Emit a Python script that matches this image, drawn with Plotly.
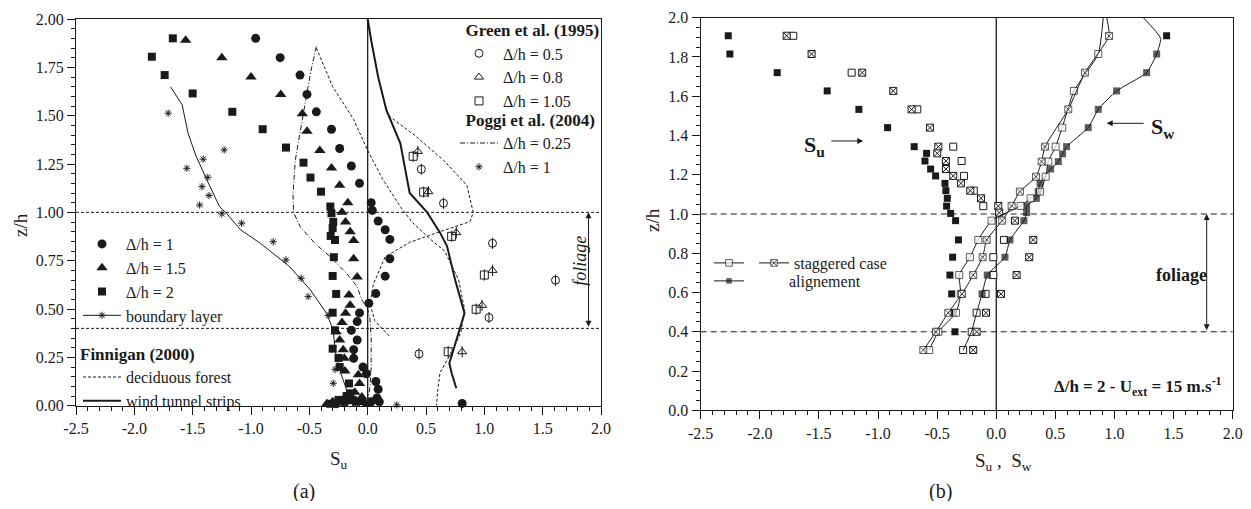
import plotly.graph_objects as go

FONT = "Liberation Serif"
BLACK = "#1a1a1a"
PAGE_OFF = 8          # default page margin around the plot div
W, H = 1251 - PAGE_OFF, 509 - 2 * PAGE_OFF

# ======================= Panel (a) : S_u ==========================
a_dh1_x = [-0.96, -0.75, -0.58, -0.52, -0.44, -0.31, -0.24, -0.14, -0.07, 0.03, 0.04, 0.09, 0.15, 0.19, 0.19,
           0.15, 0.07, 0.01, -0.07, -0.09, -0.14, -0.09, -0.12, -0.12, -0.04, -0.01, 0.07, 0.09, 0.08, 0.03,
           -0.05, -0.12, -0.20, -0.27, 0.10, 0.81]
a_dh1_z = [1.90, 1.80, 1.71, 1.61, 1.52, 1.43, 1.33, 1.24, 1.15, 1.05, 1.01, 0.955, 0.91, 0.86, 0.76,
           0.67, 0.58, 0.53, 0.48, 0.435, 0.39, 0.34, 0.29, 0.245, 0.20, 0.165, 0.125, 0.085, 0.04, 0.02,
           0.025, 0.03, 0.015, 0.01, 0.02, 0.012]
a_dh15_x = [-1.56, -1.25, -1.00, -0.745, -0.56, -0.52, -0.41, -0.31, -0.24, -0.17, -0.22, -0.19, -0.15, -0.12,
            -0.12, -0.09, -0.16, -0.15, -0.19, -0.22, -0.27, -0.24, -0.21, -0.20, -0.195, -0.08, -0.07, -0.11,
            -0.20, -0.30, -0.35, -0.15, -0.05, 0.0]
a_dh15_z = [1.89, 1.80, 1.70, 1.61, 1.51, 1.42, 1.32, 1.23, 1.14, 1.05, 1.00, 0.95, 0.90, 0.855,
            0.76, 0.665, 0.573, 0.52, 0.478, 0.43, 0.383, 0.34, 0.29, 0.245, 0.18, 0.16, 0.115, 0.07,
            0.04, 0.02, 0.01, 0.02, 0.045, 0.01]
a_dh2_x = [-1.67, -1.85, -1.74, -1.50, -1.16, -0.90, -0.70, -0.55, -0.49, -0.40, -0.32, -0.31, -0.295, -0.30,
           -0.317, -0.28, -0.29, -0.30, -0.27, -0.30, -0.28, -0.30, -0.25, -0.24, -0.16, -0.15, -0.25, -0.10,
           -0.18, -0.32]
a_dh2_z = [1.90, 1.805, 1.71, 1.615, 1.52, 1.43, 1.335, 1.257, 1.18, 1.107, 1.03, 0.995, 0.95, 0.918,
           0.878, 0.857, 0.768, 0.671, 0.578, 0.481, 0.39, 0.295, 0.247, 0.20, 0.115, 0.064, 0.03, 0.02,
           0.05, 0.01]
a_bl_x = [-1.69, -1.59, -1.54, -1.47, -1.38, -1.27, -1.21, -1.09, -0.92, -0.67, -0.49, -0.35, -0.295, -0.28,
          -0.24, -0.18, -0.166]
a_bl_z = [1.65, 1.556, 1.41, 1.29, 1.17, 1.03, 0.995, 0.91, 0.84, 0.72, 0.598, 0.476, 0.39, 0.288,
          0.185, 0.081, 0.012]
a_dec_x = [-0.44, -0.30, -0.12, 0.0, 0.13, 0.28, 0.38, 0.52, 0.66, 0.78, 0.83, 0.80, 0.73, 0.62, 0.60, 0.59,
           None, 0.18, 0.40, 0.65, 0.85, 0.905, 0.877, 0.62, 0.36, 0.15, 0.05, 0.02, 0.06, 0.19]
a_dec_z = [1.85, 1.65, 1.48, 1.32, 1.17, 1.03, 0.95, 0.87, 0.80, 0.65, 0.50, 0.38, 0.29, 0.17, 0.08, 0.0,
           None, 1.50, 1.40, 1.27, 1.14, 1.0, 0.952, 0.90, 0.845, 0.77, 0.63, 0.53, 0.44, 0.357]
a_wt_x = [0.0, 0.03, 0.09, 0.16, 0.28, 0.33, 0.36, 0.51, 0.62, 0.68, 0.75, 0.83, 0.76, 0.70, 0.72, 0.76]
a_wt_z = [2.0, 1.89, 1.70, 1.53, 1.357, 1.185, 1.10, 1.0, 0.895, 0.826, 0.65, 0.478, 0.34, 0.22, 0.168, 0.09]
a_g05_x = [0.46, 0.65, 1.07, 1.61, 1.04, 0.44]
a_g05_z = [1.223, 1.047, 0.84, 0.649, 0.456, 0.268]
a_g08_x = [0.43, 0.52, 0.76, 1.07, 0.98, 0.81]
a_g08_z = [1.315, 1.107, 0.895, 0.70, 0.519, 0.279]
a_g105_x = [0.39, 0.48, 0.72, 1.0, 0.93, 0.69]
a_g105_z = [1.29, 1.105, 0.876, 0.676, 0.499, 0.279]
a_p025_x = [-0.44, -0.48, -0.52, -0.57, -0.62, -0.64, -0.635, -0.58, -0.45, -0.32, -0.18, -0.09, -0.05, 0.0,
            0.02, 0.03, 0.03, 0.02, 0.0]
a_p025_z = [1.857, 1.75, 1.62, 1.45, 1.27, 1.10, 1.0, 0.927, 0.838, 0.77, 0.684, 0.615, 0.547, 0.50,
            0.45, 0.35, 0.20, 0.10, 0.02]
a_p1_x = [-1.71, -1.23, -1.41, -1.55, -1.37, -1.42, -1.36, -1.44, -1.25, -1.08, -0.81, -0.70, -0.57, -0.51,
          -0.34, -0.28, -0.295, 0.25]
a_p1_z = [1.513, 1.323, 1.275, 1.228, 1.181, 1.133, 1.087, 1.038, 0.992, 0.944, 0.848, 0.754, 0.659, 0.564,
          0.467, 0.188, 0.116, 0.004]

# ======================= Panel (b) : S_u , S_w ======================
b_su_fill_x = [-2.267, -2.253, -1.853, -1.43, -1.162, -0.919, -0.694, -0.589, -0.603, -0.555, -0.513, -0.434,
               -0.426, -0.414, -0.42, -0.386, -0.344, -0.32, -0.369, -0.392, -0.377, -0.364, -0.349]
b_su_fill_z = [1.908, 1.815, 1.72, 1.627, 1.533, 1.44, 1.343, 1.309, 1.27, 1.229, 1.194, 1.156,
               1.119, 1.08, 1.04, 1.003, 0.966, 0.868, 0.78, 0.689, 0.593, 0.497, 0.40]
b_su_open_x = [-1.717, -1.223, -0.668, -0.364, -0.293, -0.273, -0.19, -0.11, 0.065, -0.025, -0.025, -0.09,
               -0.166, -0.208, -0.28]
b_su_open_z = [1.908, 1.72, 1.533, 1.343, 1.27, 1.194, 1.119, 1.04, 0.868, 0.78, 0.689, 0.593,
               0.497, 0.40, 0.307]
b_su_cross_x = [-1.773, -1.562, -1.134, -0.871, -0.716, -0.561, -0.49, -0.499, -0.426, -0.426, -0.364, -0.299,
                -0.22, -0.129, 0.017, 0.025, 0.158, 0.313, 0.279, 0.172, 0.04, -0.087, -0.166, -0.195]
b_su_cross_z = [1.908, 1.815, 1.72, 1.627, 1.533, 1.44, 1.343, 1.309, 1.27, 1.229, 1.194, 1.156,
                1.119, 1.08, 1.041, 1.007, 0.966, 0.868, 0.78, 0.689, 0.593, 0.497, 0.40, 0.307]
b_sw_open_x = [0.863, 0.657, 0.558, 0.502, 0.44, 0.418, 0.37, 0.29, 0.206, -0.04, -0.152, -0.223, -0.313,
               -0.30, -0.341, -0.49, -0.567]
b_sw_open_z = [1.815, 1.627, 1.44, 1.343, 1.267, 1.19, 1.114, 1.08, 1.041, 0.966, 0.868, 0.78, 0.689,
               0.593, 0.497, 0.40, 0.307]
b_sw_open_fit_top_x = [0.905]
b_sw_open_fit_top_z = [2.0]
b_sw_cross_x = [0.954, 0.75, 0.609, 0.412, 0.384, 0.336, 0.20, 0.13, 0.05, -0.081, -0.115, -0.195, -0.29,
                -0.406, -0.51, -0.617]
b_sw_cross_z = [1.907, 1.72, 1.533, 1.343, 1.267, 1.19, 1.114, 1.041, 0.966, 0.868, 0.78, 0.689, 0.593,
                0.497, 0.40, 0.307]
b_sw_cross_fit_top_x = [0.934]
b_sw_cross_fit_top_z = [2.0]
b_sw_fill_x = [1.357, 1.272, 1.018, 0.863, 0.778, 0.595, 0.561, 0.525, 0.46, 0.37, 0.355, 0.34, 0.257,
               0.257, 0.234, 0.116, 0.074, -0.076, -0.12]
b_sw_fill_z = [1.815, 1.72, 1.627, 1.533, 1.44, 1.343, 1.306, 1.267, 1.229, 1.156, 1.114, 1.08, 1.041,
               1.007, 0.966, 0.868, 0.78, 0.689, 0.593]
b_sw_fill_fit_top_x = [1.244, 1.39]
b_sw_fill_fit_top_z = [2.0, 1.895]
b_sw_fill_fit_bot_x = [-0.166, -0.21, -0.28]
b_sw_fill_fit_bot_z = [0.497, 0.40, 0.307]
b_sw_fill_extra_x = [1.441]
b_sw_fill_extra_z = [1.908]

canopy_levels = [1.0, 0.4]
zero_level = [0.0]
x_ticks = [-2.5, -2.0, -1.5, -1.0, -0.5, 0.0, 0.5, 1.0, 1.5, 2.0]
ya_ticks = [0.0, 0.25, 0.5, 0.75, 1.0, 1.25, 1.5, 1.75, 2.0]
yb_ticks = [0.0, 0.2, 0.4, 0.6, 0.8, 1.0, 1.2, 1.4, 1.6, 1.8, 2.0]


# page pixel -> paper fraction
def PX(p):
    return (p - PAGE_OFF) / W


def PY(p):
    return 1 - (p - PAGE_OFF) / H


fig = go.Figure()


def add(axis, **kw):
    xa, ya = ("x", "y") if axis == "a" else ("x2", "y2")
    kw.setdefault("cliponaxis", False)
    fig.add_trace(go.Scatter(xaxis=xa, yaxis=ya, **kw))


def mk(symbol, size, color=BLACK, lw=1):
    return dict(symbol=symbol, size=size, color=color, line=dict(color=BLACK, width=lw))


# ---- panel (a) lines
add("a", x=a_p025_x, y=a_p025_z, mode="lines", name="\u0394/h = 0.25", legend="legend4", legendrank=1,
    line=dict(color=BLACK, width=1, dash="5px,2px,1px,2px"), cliponaxis=True)
add("a", x=a_dec_x, y=a_dec_z, mode="lines", name="deciduous forest", legend="legend2", legendrank=1,
    line=dict(color=BLACK, width=1, dash="3px,2px"), connectgaps=False, cliponaxis=True)
add("a", x=a_wt_x, y=a_wt_z, mode="lines", name="wind tunnel strips", legend="legend2", legendrank=2,
    line=dict(color=BLACK, width=2), cliponaxis=True)
add("a", x=a_bl_x, y=a_bl_z, mode="lines+markers", name="boundary layer", legend="legend", legendrank=4,
    line=dict(color=BLACK, width=1), marker=mk("asterisk-open", 6, lw=1),
    selectedpoints=[], unselected=dict(marker=dict(opacity=0)), cliponaxis=True)
# ---- panel (a) markers
add("a", x=a_dh1_x, y=a_dh1_z, mode="markers", name="\u0394/h = 1", legend="legend", legendrank=1,
    marker=mk("circle", 9, lw=0))
add("a", x=a_dh15_x, y=a_dh15_z, mode="markers", name="\u0394/h = 1.5", legend="legend", legendrank=2,
    marker=mk("triangle-up", 10, lw=0))
add("a", x=a_dh2_x, y=a_dh2_z, mode="markers", name="\u0394/h = 2", legend="legend", legendrank=3,
    marker=mk("square", 8, lw=0))
for gx, gz, sym, nm, rk in [(a_g05_x, a_g05_z, "circle-open", "\u0394/h = 0.5", 1),
                            (a_g08_x, a_g08_z, "triangle-up-open", "\u0394/h = 0.8", 2),
                            (a_g105_x, a_g105_z, "square-open", "\u0394/h = 1.05", 3)]:
    add("a", x=gx, y=gz, mode="markers", name=nm, legend="legend3", legendrank=rk, marker=mk(sym, 8, lw=1))
    add("a", x=gx, y=gz, mode="markers", showlegend=False, marker=mk("line-ns-open", 8, lw=1))
add("a", x=a_p1_x, y=a_p1_z, mode="markers", name="\u0394/h = 1", legend="legend4", legendrank=2,
    marker=mk("asterisk-open", 6, lw=1))

# ---- panel (b) S_u markers
add("b", x=b_su_fill_x, y=b_su_fill_z, mode="markers", showlegend=False, marker=mk("square", 7, lw=0))
add("b", x=b_su_open_x, y=b_su_open_z, mode="markers", showlegend=False, marker=mk("square", 7, "white"))
add("b", x=b_su_cross_x, y=b_su_cross_z, mode="markers", showlegend=False, marker=mk("square-x", 7, "white"))


def fit_trace(top_x, top_z, xs, zs, bot_x=(), bot_z=()):
    x = list(top_x) + list(xs) + list(bot_x)
    z = list(top_z) + list(zs) + list(bot_z)
    sizes = [0] * len(top_x) + [7] * len(xs) + [0] * len(bot_x)
    return x, z, sizes


x, z, s = fit_trace(b_sw_fill_fit_top_x, b_sw_fill_fit_top_z, b_sw_fill_x, b_sw_fill_z,
                    b_sw_fill_fit_bot_x, b_sw_fill_fit_bot_z)
add("b", x=x, y=z, mode="lines+markers", name="\u00a0" * 10 + "alignement", legend="legend6",
    line=dict(color=BLACK, width=1, shape="spline", smoothing=0.5),
    marker=dict(symbol="square", size=s, color=BLACK, line=dict(width=0)))
add("b", x=b_sw_fill_extra_x, y=b_sw_fill_extra_z, mode="markers", showlegend=False,
    marker=mk("square", 7, lw=0))
x, z, s = fit_trace(b_sw_open_fit_top_x, b_sw_open_fit_top_z, b_sw_open_x, b_sw_open_z)
add("b", x=x, y=z, mode="lines+markers", name="", legend="legend5", legendrank=1,
    line=dict(color=BLACK, width=1, shape="spline", smoothing=0.5),
    marker=dict(symbol="square", size=s, color="white", line=dict(color=BLACK, width=1)))
x, z, s = fit_trace(b_sw_cross_fit_top_x, b_sw_cross_fit_top_z, b_sw_cross_x, b_sw_cross_z)
add("b", x=x, y=z, mode="lines+markers", name="staggered case", legend="legend5", legendrank=2,
    line=dict(color=BLACK, width=1, shape="spline", smoothing=0.5),
    marker=dict(symbol="square-x", size=s, color="white", line=dict(color=BLACK, width=1)))

# ---- reference lines
shapes = []
for xr, yr, dash in [("x", "y", "3px,2px"), ("x2", "y2", "6px,4px")]:
    for lv in canopy_levels:
        shapes.append(dict(type="line", xref=xr + " domain", yref=yr, x0=0, x1=1, y0=lv, y1=lv,
                           line=dict(color=BLACK, width=1, dash=dash), layer="below"))
    for lv in zero_level:
        shapes.append(dict(type="line", xref=xr, yref=yr + " domain", x0=lv, x1=lv, y0=0, y1=1,
                           line=dict(color=BLACK, width=1.3), layer="below"))

TICKFONT = dict(family=FONT, size=16, color=BLACK)


def xaxis(domain, anchor):
    return dict(domain=domain, anchor=anchor, range=[-2.5, 2.0], tickmode="array", tickvals=x_ticks,
                ticktext=[f"{v:.1f}" for v in x_ticks], showline=True, linewidth=1.3, linecolor=BLACK,
                mirror=True, ticks="outside", ticklen=8, tickwidth=1.2, tickcolor=BLACK, showgrid=False,
                zeroline=False, tickfont=TICKFONT, automargin=False,
                minor=dict(tickmode="linear", tick0=-2.5, dtick=0.1, ticks="outside", ticklen=4,
                           tickwidth=1, tickcolor=BLACK, showgrid=False))


def yaxis(domain, anchor, ticks, fmt):
    return dict(domain=domain, anchor=anchor, range=[0, 2.0], tickmode="array", tickvals=ticks,
                ticktext=[format(v, fmt) for v in ticks], showline=True, linewidth=1.3, linecolor=BLACK,
                mirror=True, ticks="outside", ticklen=8, tickwidth=1.2, tickcolor=BLACK, showgrid=False,
                zeroline=False, tickfont=TICKFONT, automargin=False,
                minor=dict(tickmode="linear", tick0=0, dtick=0.05, ticks="outside", ticklen=4,
                           tickwidth=1, tickcolor=BLACK, showgrid=False))


xa = xaxis([PX(76), PX(601)], "y")
ya = yaxis([PY(405.7), PY(19)], "x", ya_ticks, ".2f")
xb = xaxis([PX(700.7), PX(1232.7)], "y2")
yb = yaxis([PY(410.3), PY(17.7)], "x2", yb_ticks, ".1f")

leg = dict(bgcolor="rgba(0,0,0,0)", borderwidth=0, font=dict(family=FONT, size=16, color=BLACK),
           xanchor="left", yanchor="top", tracegroupgap=0, itemwidth=38, itemclick=False)
title_font = dict(family=FONT, size=17, color=BLACK)
NB2 = "\u00a0" * 2


def paper_text(px, py, text, size=19, angle=0, **kw):
    return dict(xref="paper", yref="paper", x=PX(px), y=PY(py), text=text, showarrow=False,
                xanchor="center", yanchor="middle", textangle=angle,
                font=dict(family=FONT, size=size, color=BLACK), **kw)


def data_text(xr, yr, x, y, text, size, xanchor="center", angle=0):
    return dict(xref=xr, yref=yr, x=x, y=y, text=text, showarrow=False, xanchor=xanchor,
                yanchor="middle", textangle=angle, font=dict(family=FONT, size=size, color=BLACK))


def arrow(xr, yr, x0, y0, x1, y1, both=False):
    d = dict(xref=xr, yref=yr, x=x1, y=y1, ax=x0, ay=y0, axref=xr, ayref=yr, text="", showarrow=True,
             arrowhead=2, arrowsize=1.2, arrowwidth=1, arrowcolor=BLACK, standoff=0, startstandoff=0)
    if both:
        d["arrowside"] = "end+start"
    return d


annotations = [
    # axis titles
    paper_text(339, 460, "S<sub>u</sub>"),
    paper_text(21, 225, "z/h", angle=-90),
    paper_text(1003, 462, "S<sub>u</sub> ,  S<sub>w</sub>"),
    paper_text(652, 220, "z/h", angle=-90),
    # panel (a)
    data_text("x", "y", 1.82, 0.75, "<i>foliage</i>", 18, angle=-90),
    arrow("x", "y", 1.893, canopy_levels[1], 1.893, canopy_levels[0], both=True),
    # panel (b)
    arrow("x2", "y2", 1.78, canopy_levels[1], 1.78, canopy_levels[0], both=True),
    data_text("x2", "y2", 1.567, 0.689, "<b>foliage</b>", 18),
    data_text("x2", "y2", -1.535, 1.346, "<b>S<sub>u</sub></b>", 22),
    arrow("x2", "y2", -1.408, 1.372, -1.125, 1.372),
    data_text("x2", "y2", 1.41, 1.438, "<b>S<sub>w</sub></b>", 22),
    arrow("x2", "y2", 1.259, 1.462, 0.934, 1.462),
    data_text("x2", "y2", 1.93, 0.12, "<b>\u0394/h = 2 - U<sub>ext</sub> = 15 m.s<sup>-1</sup></b>", 17,
              xanchor="right"),
    # captions
    paper_text(304, 491, "(a)", size=20),
    paper_text(940, 491, "(b)", size=20),
]

fig.update_layout(
    width=W, height=H, margin=dict(l=0, r=0, t=0, b=0, pad=0),
    paper_bgcolor="white", plot_bgcolor="white",
    font=dict(family=FONT, size=16, color=BLACK),
    xaxis=xa, yaxis=ya, xaxis2=xb, yaxis2=yb,
    shapes=shapes, annotations=annotations,
    legend=dict(leg, x=PX(78), y=PY(227)),
    legend2=dict(leg, x=PX(78), y=PY(338), title=dict(text="<b>Finnigan (2000)</b>", font=title_font)),
    legend3=dict(leg, x=PX(455), y=PY(14.3),
                 title=dict(text=NB2 + "<b>Green et al. (1995)</b>", font=title_font)),
    legend4=dict(leg, x=PX(455), y=PY(104),
                 title=dict(text=NB2 + "<b>Poggi et al. (2004)</b>", font=title_font)),
    legend5=dict(leg, x=PX(709), y=PY(246), orientation="h", itemwidth=30),
    legend6=dict(leg, x=PX(709), y=PY(264), itemwidth=30),
    showlegend=True,
)

fig.write_html("out.html")
